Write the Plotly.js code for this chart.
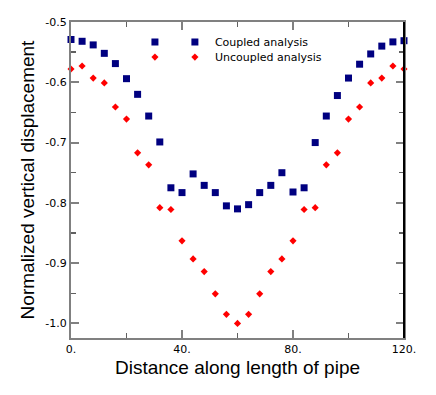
<!DOCTYPE html>
<html>
<head>
<meta charset="utf-8">
<script src="https://cdn.plot.ly/plotly-3.0.1.min.js"></script>
<style>html,body{margin:0;padding:0;background:#fff;}#chart{width:436px;height:395px;}</style>
</head>
<body>
<div id="chart"></div>
<script>
// Data
const distance = [0,4,8,12,16,20,24,28,32,36,40,44,48,52,56,60,64,68,72,76,80,84,88,92,96,100,104,108,112,116,120];
const coupled = [-0.529,-0.532,-0.538,-0.552,-0.569,-0.594,-0.620,-0.656,-0.699,-0.775,-0.783,-0.752,-0.771,-0.783,-0.805,-0.810,-0.803,-0.783,-0.771,-0.750,-0.782,-0.775,-0.700,-0.656,-0.622,-0.593,-0.570,-0.553,-0.540,-0.533,-0.531];
const uncoupled = [-0.578,-0.573,-0.593,-0.601,-0.641,-0.661,-0.717,-0.737,-0.808,-0.811,-0.863,-0.893,-0.914,-0.951,-0.985,-1.000,-0.985,-0.951,-0.914,-0.893,-0.863,-0.811,-0.808,-0.737,-0.717,-0.661,-0.641,-0.601,-0.593,-0.573,-0.578];
const seriesNames = ['Coupled analysis','Uncoupled analysis'];
const xTickVals = [0,40,80,120];
const xTickText = ['0.','40.','80.','120.'];
const yTickVals = [-0.5,-0.6,-0.7,-0.8,-0.9,-1.0];
const yTickText = ['-0.5','-0.6','-0.7','-0.8','-0.9','-1.0'];

const blueMarker = {symbol:'square', size:7, color:'#000080'};
const redMarker = {symbol:'diamond', size:5.5, color:'#ff0000'};

const traces = [
  {x:distance, y:coupled, type:'scatter', mode:'markers', name:seriesNames[0], marker:blueMarker, cliponaxis:false, legend:'legend'},
  {x:distance, y:uncoupled, type:'scatter', mode:'markers', name:seriesNames[1], marker:redMarker, cliponaxis:false, legend:'legend2'},
  // legend-only sample markers (no data points)
  {x:[null], y:[null], type:'scatter', mode:'markers', name:' ', marker:blueMarker, legend:'legend3'},
  {x:[null], y:[null], type:'scatter', mode:'markers', name:' ', marker:redMarker, legend:'legend4'}
];

const axisCommon = {
  showline:true, linecolor:'#808080', linewidth:2, mirror:'allticks',
  ticks:'inside', ticklen:8, tickwidth:2, tickcolor:'#808080',
  showgrid:false, zeroline:false,
  tickfont:{family:'DejaVu Sans', size:11, color:'#000'}
};

const legendFont = {family:'DejaVu Sans', size:11, color:'#000'};
function legendAt(xp, yp) {
  return {x:xp, y:yp, xanchor:'left', yanchor:'middle', bgcolor:'rgba(0,0,0,0)', borderwidth:0, font:legendFont};
}

const layout = {
  width:436, height:395,
  margin:{l:71, r:32, t:22, b:57, pad:0},
  paper_bgcolor:'#fff', plot_bgcolor:'#fff',
  showlegend:true,
  xaxis: Object.assign({}, axisCommon, {
    range:[0,120], tickvals:xTickVals, ticktext:xTickText,
    minor:{ticks:'inside', dtick:20, tick0:0, ticklen:5, tickwidth:1.5, tickcolor:'#606060'},
    title:{text:'Distance along length of pipe', font:{family:'Liberation Sans', size:19, color:'#000'}, standoff:5},
    automargin:false
  }),
  yaxis: Object.assign({}, axisCommon, {
    range:[-1.0242,-0.5], tickvals:yTickVals, ticktext:yTickText,
    minor:{ticks:'inside', dtick:0.05, tick0:-0.5, ticklen:5, tickwidth:1.5, tickcolor:'#606060'},
    title:{text:'Normalized vertical displacement', font:{family:'Liberation Sans', size:19, color:'#000'}, standoff:6},
    automargin:false
  }),
  legend: legendAt(0.312, 0.9367),
  legend2: legendAt(0.312, 0.889),
  legend3: legendAt(0.192, 0.9367),
  legend4: legendAt(0.192, 0.889),
  shapes:[
    {type:'line', xref:'paper', yref:'paper', x0:1, x1:1, y0:0, y1:1, line:{color:'#000', width:2}}
  ]
};

Plotly.newPlot('chart', traces, layout, {staticPlot:true, displayModeBar:false});
</script>
</body>
</html>
